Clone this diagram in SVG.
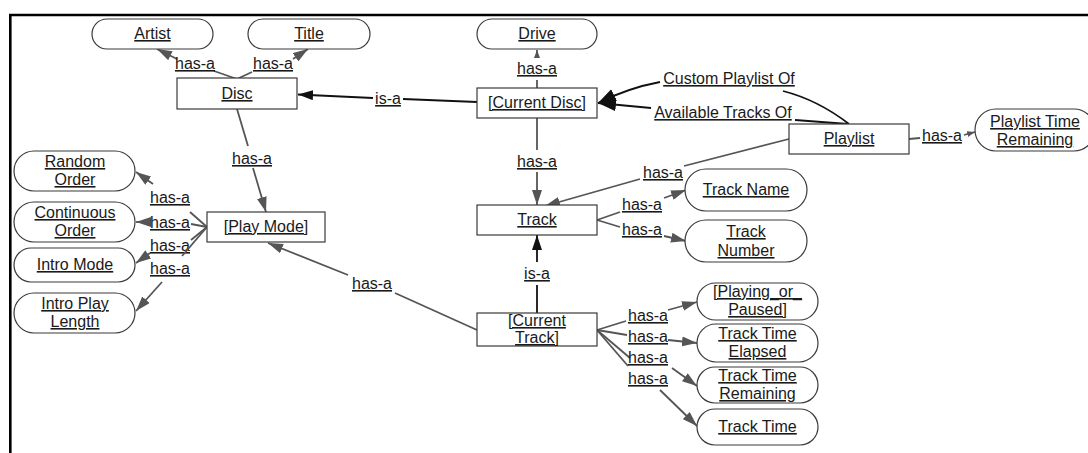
<svg xmlns="http://www.w3.org/2000/svg" width="1088" height="453" viewBox="0 0 1088 453">
  <style>
    text { font-family: "Liberation Sans", Arial, sans-serif; font-size: 16px; fill: #1a1a1a; text-anchor: middle; text-decoration: underline; }
    .box { fill: #ffffff; stroke: #3a3a3a; stroke-width: 1.2; }
    .has { stroke: #555555; stroke-width: 1.8; fill: none; }
    .isa { stroke: #111111; stroke-width: 1.8; fill: none; }
    .has-arrow { marker-end: url(#arrowGrey); }
    .tiny-arrow { marker-end: url(#arrowTiny); }
    .isa-arrow { marker-end: url(#arrowBlack); }
    .big-arrow { marker-end: url(#arrowBig); }
  </style>
  <defs>
    <marker id="arrowGrey" viewBox="0 0 15 10" refX="15" refY="5" markerWidth="15" markerHeight="10" markerUnits="userSpaceOnUse" orient="auto">
      <path d="M0,0 L15,5 L0,10 z" fill="#555555"/>
    </marker>
    <marker id="arrowTiny" viewBox="0 0 8 6" refX="8" refY="3" markerWidth="8" markerHeight="6" markerUnits="userSpaceOnUse" orient="auto">
      <path d="M0,0 L8,3 L0,6 z" fill="#555555"/>
    </marker>
    <marker id="arrowBlack" viewBox="0 0 15 10" refX="15" refY="5" markerWidth="15" markerHeight="10" markerUnits="userSpaceOnUse" orient="auto">
      <path d="M0,0 L15,5 L0,10 z" fill="#111111"/>
    </marker>
    <marker id="arrowBig" viewBox="0 0 18 13" refX="18" refY="6.5" markerWidth="18" markerHeight="13" markerUnits="userSpaceOnUse" orient="auto">
      <path d="M0,0 L18,6.5 L0,13 z" fill="#111111"/>
    </marker>
  </defs>

  <rect x="0" y="0" width="1088" height="453" fill="#ffffff"/>
  <!-- page frame -->
  <path d="M10.3,453 V15 H1088" fill="none" stroke="#000000" stroke-width="2.6"/>

  <!-- connectors -->
  <g id="connectors">
    <!-- Disc has-a Artist -->
    <line class="has" x1="237" y1="79" x2="214" y2="71"/>
    <line class="has has-arrow" x1="177" y1="59" x2="157" y2="49"/>
    <text x="195" y="69">has-a</text>
    <!-- Disc has-a Title -->
    <line class="has" x1="237" y1="79" x2="252" y2="72"/>
    <line class="has has-arrow" x1="293" y1="59" x2="308" y2="49"/>
    <text x="273" y="69">has-a</text>
    <!-- [Current Disc] is-a Disc -->
    <line class="isa" x1="477" y1="102" x2="403" y2="99"/>
    <line class="isa isa-arrow" x1="373" y1="98" x2="298" y2="94.5"/>
    <text x="388" y="104">is-a</text>
    <!-- [Current Disc] has-a Drive -->
    <line class="has" x1="537" y1="88" x2="537" y2="80"/>
    <line class="has tiny-arrow" x1="537" y1="58" x2="537" y2="50"/>
    <text x="537" y="74">has-a</text>
    <!-- [Current Disc] has-a Track -->
    <line class="has" x1="537" y1="118" x2="537" y2="150"/>
    <line class="has has-arrow" x1="537" y1="172" x2="537" y2="205"/>
    <text x="537" y="167">has-a</text>
    <!-- Disc has-a [Play Mode] -->
    <line class="has" x1="237" y1="109" x2="248" y2="146"/>
    <line class="has has-arrow" x1="253" y1="168" x2="266" y2="212"/>
    <text x="252" y="164">has-a</text>
    <!-- [Current Track] has-a [Play Mode] -->
    <line class="has" x1="477" y1="330" x2="395" y2="293"/>
    <line class="has has-arrow" x1="348" y1="275" x2="268" y2="243"/>
    <text x="372" y="289">has-a</text>
    <!-- [Current Track] is-a Track -->
    <line class="isa" x1="537" y1="313" x2="537" y2="285"/>
    <line class="isa isa-arrow" x1="537" y1="262" x2="537" y2="235"/>
    <text x="537" y="279">is-a</text>
    <!-- Playlist: Custom Playlist Of -->
    <path class="isa" d="M849,124 Q818,100 783,91"/>
    <path class="isa big-arrow" d="M660,82 Q628,88 598,103"/>
    <text x="729" y="84">Custom Playlist Of</text>
    <!-- Playlist: Available Tracks Of -->
    <line class="isa" x1="848" y1="124" x2="795" y2="120"/>
    <line class="isa big-arrow" x1="651" y1="108" x2="598" y2="103"/>
    <text x="723" y="118">Available Tracks Of</text>
    <!-- Playlist has-a Track -->
    <line class="has" x1="789" y1="139" x2="684" y2="166"/>
    <line class="has has-arrow" x1="640" y1="179" x2="545" y2="206"/>
    <text x="663" y="178">has-a</text>
    <!-- Playlist has-a Playlist Time Remaining -->
    <line class="has" x1="909" y1="139" x2="920" y2="138"/>
    <line class="has tiny-arrow" x1="964" y1="135" x2="975" y2="132"/>
    <text x="942" y="141">has-a</text>
    <!-- Track has-a Track Name -->
    <line class="has" x1="597" y1="220" x2="620" y2="212"/>
    <line class="has has-arrow" x1="664" y1="198" x2="686" y2="190"/>
    <text x="642" y="210">has-a</text>
    <!-- Track has-a Track Number -->
    <line class="has" x1="597" y1="220" x2="620" y2="227"/>
    <line class="has has-arrow" x1="664" y1="236" x2="686" y2="241"/>
    <text x="642" y="235">has-a</text>
    <!-- [Play Mode] has-a Random Order -->
    <line class="has" x1="207" y1="227" x2="190" y2="212"/>
    <line class="has has-arrow" x1="153" y1="184" x2="136" y2="172"/>
    <text x="170" y="203">has-a</text>
    <!-- [Play Mode] has-a Continuous Order -->
    <line class="has" x1="207" y1="227" x2="191" y2="224"/>
    <line class="has has-arrow" x1="150" y1="222" x2="136" y2="222"/>
    <text x="170" y="228">has-a</text>
    <!-- [Play Mode] has-a Intro Mode -->
    <line class="has" x1="207" y1="227" x2="191" y2="240"/>
    <line class="has has-arrow" x1="150" y1="253" x2="136" y2="263"/>
    <text x="170" y="251">has-a</text>
    <!-- [Play Mode] has-a Intro Play Length -->
    <line class="has" x1="207" y1="227" x2="182" y2="256"/>
    <line class="has has-arrow" x1="162" y1="282" x2="136" y2="311"/>
    <text x="170" y="274">has-a</text>
    <!-- [Current Track] has-a [Playing_or_Paused] -->
    <line class="has" x1="597" y1="330" x2="626" y2="321"/>
    <line class="has has-arrow" x1="668" y1="310" x2="697" y2="302"/>
    <text x="648" y="321">has-a</text>
    <!-- [Current Track] has-a Track Time Elapsed -->
    <line class="has" x1="597" y1="330" x2="627" y2="335"/>
    <line class="has has-arrow" x1="668" y1="340" x2="697" y2="343"/>
    <text x="648" y="342">has-a</text>
    <!-- [Current Track] has-a Track Time Remaining -->
    <line class="has" x1="597" y1="330" x2="630" y2="358"/>
    <line class="has has-arrow" x1="672" y1="368" x2="697" y2="386"/>
    <text x="648" y="363">has-a</text>
    <!-- [Current Track] has-a Track Time -->
    <line class="has" x1="597" y1="330" x2="628" y2="366"/>
    <line class="has has-arrow" x1="660" y1="390" x2="697" y2="426"/>
    <text x="648" y="384">has-a</text>
  </g>

  <!-- concept nodes -->
  <g id="artist"><rect class="box" x="92" y="19" width="121" height="30" rx="15"/><text x="152.5" y="39">Artist</text></g>
  <g id="title"><rect class="box" x="248" y="19" width="122" height="30" rx="15"/><text x="309" y="39">Title</text></g>
  <g id="drive"><rect class="box" x="477" y="19" width="120" height="30" rx="15"/><text x="537" y="39">Drive</text></g>
  <g id="disc"><rect class="box" x="177" y="78" width="120" height="31"/><text x="237" y="99">Disc</text></g>
  <g id="current-disc"><rect class="box" x="477" y="88" width="120" height="30"/><text x="537" y="108">[Current Disc]</text></g>
  <g id="playlist"><rect class="box" x="789" y="124" width="120" height="30"/><text x="849" y="144">Playlist</text></g>
  <g id="playlist-time-remaining"><rect class="box" x="975" y="109" width="120" height="42" rx="21"/><text x="1035" y="127">Playlist Time</text><text x="1035" y="145">Remaining</text></g>

  <g id="random-order"><rect class="box" x="14" y="151" width="121" height="40" rx="20"/><text x="75" y="167">Random</text><text x="75" y="185">Order</text></g>
  <g id="continuous-order"><rect class="box" x="14" y="202" width="121" height="40" rx="20"/><text x="75" y="218">Continuous</text><text x="75" y="236">Order</text></g>
  <g id="intro-mode"><rect class="box" x="14" y="248" width="121" height="34" rx="17"/><text x="75" y="270">Intro Mode</text></g>
  <g id="intro-play-length"><rect class="box" x="14" y="293" width="121" height="40" rx="20"/><text x="75" y="309">Intro Play</text><text x="75" y="327">Length</text></g>
  <g id="play-mode"><rect class="box" x="207" y="212" width="118" height="30"/><text x="266" y="232">[Play Mode]</text></g>

  <g id="track"><rect class="box" x="477" y="205" width="120" height="30"/><text x="537" y="225">Track</text></g>
  <g id="current-track"><rect class="box" x="477" y="313" width="120" height="33"/><text x="537" y="326">[Current</text><text x="537" y="343">Track]</text></g>
  <g id="track-name"><rect class="box" x="685" y="169" width="122" height="42" rx="21"/><text x="746" y="195">Track Name</text></g>
  <g id="track-number"><rect class="box" x="685" y="220" width="122" height="42" rx="21"/><text x="746" y="237">Track</text><text x="746" y="256">Number</text></g>

  <g id="playing-or-paused"><rect class="box" x="697" y="283" width="121" height="37" rx="18.5"/><text x="757.5" y="297">[Playing_or_</text><text x="757.5" y="315">Paused]</text></g>
  <g id="track-time-elapsed"><rect class="box" x="697" y="324" width="121" height="38" rx="19"/><text x="757.5" y="339">Track Time</text><text x="757.5" y="357">Elapsed</text></g>
  <g id="track-time-remaining"><rect class="box" x="697" y="367" width="121" height="36" rx="18"/><text x="757.5" y="381">Track Time</text><text x="757.5" y="399">Remaining</text></g>
  <g id="track-time"><rect class="box" x="697" y="409" width="121" height="36" rx="18"/><text x="757.5" y="432">Track Time</text></g>
</svg>
